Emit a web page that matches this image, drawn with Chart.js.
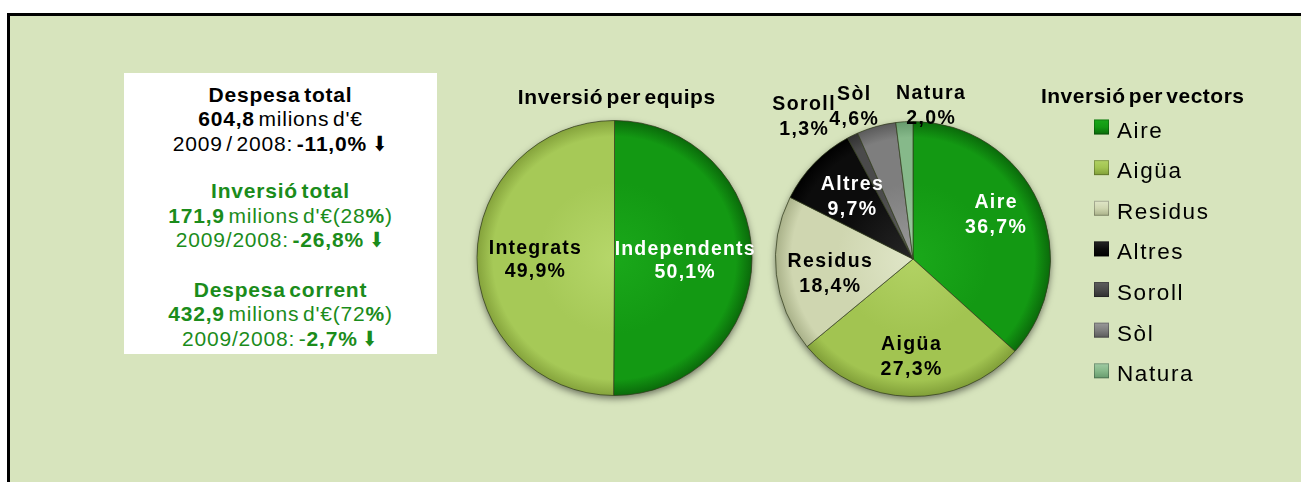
<!DOCTYPE html>
<html><head><meta charset="utf-8">
<script src="https://cdn.jsdelivr.net/npm/chart.js@4.4.1/dist/chart.umd.min.js"></script>
<style>
html,body{margin:0;padding:0;background:#fff;width:1301px;height:482px;overflow:hidden;font-family:"Liberation Sans",Arial,sans-serif;}
#frame{position:absolute;left:7px;top:13px;width:1294px;height:469px;background:#d7e4bd;border-top:3px solid #000;border-left:3px solid #000;box-sizing:border-box;}
#box{position:absolute;left:124px;top:73px;width:313px;height:281px;background:#fff;text-align:center;font-size:21px;line-height:24.5px;letter-spacing:0.8px;word-spacing:-3px;padding-top:9.5px;box-sizing:border-box;color:#000;}
#box .g2{margin-top:23px;color:#1b8c1b;}
#box .g3{margin-top:25px;color:#1b8c1b;}
#box b{font-weight:bold;}
.arr{font-family:"DejaVu Sans",sans-serif;font-weight:bold;font-size:21px;letter-spacing:0;display:inline-block;transform:scaleX(0.8);}
canvas{position:absolute;left:0;top:0;}
</style></head>
<body>
<div id="frame"></div>
<div id="box">
  <div class="g"><b>Despesa total</b><br><b>604,8</b> milions d'€<br>2009 / 2008: <b>-11,0%</b> <span class="arr">⬇</span></div>
  <div class="g2"><b>Inversió total</b><br><b>171,9</b> milions d'€(28<b>%</b>)<br>2009/2008: <b>-26,8%</b> <span class="arr">⬇</span></div>
  <div class="g3"><b>Despesa corrent</b><br><b>432,9</b> milions d'€(72<b>%</b>)<br>2009/2008: -<b>2,7%</b> <span class="arr">⬇</span></div>
</div>
<canvas id="c1" width="1301" height="482"></canvas>
<canvas id="c2" width="1301" height="482"></canvas>
<script>
// ---- data ----
const equipsLabels = ['Independents', 'Integrats'];
const equipsValues = [50.1, 49.9];
const vectorsLabels = ['Aire', 'Aigüa', 'Residus', 'Altres', 'Soroll', 'Sòl', 'Natura'];
const vectorsValues = [36.7, 27.3, 18.4, 9.7, 1.3, 4.6, 2.0];
const equipsTitle = 'Inversió per equips';
const vectorsTitle = 'Inversió per vectors';

// ---- styles ----
const equipsColors = [
  {light:'#1aa81a', base:'#139913', dark:'#0a690a'},
  {light:'#b6d76a', base:'#a6c957', dark:'#84a23b'}
];
const vectorsColors = [
  {light:'#1aa81a', base:'#139913', dark:'#0a690a'},
  {light:'#b2d264', base:'#a2c451', dark:'#809e38'},
  {light:'#e0e6c8', base:'#cfd6b0', dark:'#a8b088'},
  {light:'#262626', base:'#0c0c0c', dark:'#000000'},
  {light:'#5e5e5e', base:'#4a4a4a', dark:'#303030'},
  {light:'#9a9a9a', base:'#7e7e7e', dark:'#5a5a5a'},
  {light:'#a0cca4', base:'#86b98a', dark:'#669a6c'}
];
const FONT = '"Liberation Sans", Arial, sans-serif';

function gradFill(colors){
  return function(ctx){
    const ch = ctx.chart, a = ch.chartArea, col = colors[ctx.dataIndex];
    if(!a) return col.base;
    const cx = (a.left + a.right) / 2, cy = (a.top + a.bottom) / 2;
    const r = Math.min(a.right - a.left, a.bottom - a.top) / 2;
    const g = ch.ctx.createRadialGradient(cx, cy, 0, cx, cy, r);
    g.addColorStop(0, col.light);
    g.addColorStop(0.55, col.base);
    g.addColorStop(0.88, col.base);
    g.addColorStop(1, col.dark);
    return g;
  };
}

function fmt(v){ return v.toFixed(1).replace('.', ',') + '%'; }

const pieShadow = {
  id:'pieShadow',
  beforeDatasetsDraw(chart){
    const a = chart.getDatasetMeta(0).data[0]; if(!a) return;
    const p = a.getProps(['x','y','outerRadius'], true);
    const c = chart.ctx; c.save();
    c.shadowColor = 'rgba(0,0,0,0.5)'; c.shadowBlur = 7; c.shadowOffsetY = 3;
    c.beginPath(); c.arc(p.x, p.y, p.outerRadius, 0, Math.PI * 2);
    c.fillStyle = '#6a7a50'; c.fill(); c.restore();
  }
};

const sliceLabels = {
  id:'sliceLabels',
  afterDatasetsDraw(chart, args, opts){
    const meta = chart.getDatasetMeta(0);
    const ds = chart.data.datasets[0];
    const c = chart.ctx;
    meta.data.forEach((arc, i) => {
      const p = arc.getProps(['x','y','startAngle','endAngle','outerRadius'], true);
      const mid = (p.startAngle + p.endAngle) / 2;
      const lp = opts.place[i];
      const px = p.x + Math.cos(mid) * p.outerRadius * lp.f + lp.dx;
      const py = p.y + Math.sin(mid) * p.outerRadius * lp.f + lp.dy;
      c.save();
      c.font = 'bold ' + opts.size + 'px ' + FONT;
      c.letterSpacing = opts.ls + 'px';
      c.fillStyle = opts.colors[i];
      c.textAlign = 'center'; c.textBaseline = 'alphabetic';
      const capHalf = opts.size * 0.36;
      c.fillText(chart.data.labels[i], px + opts.ls / 2, py - opts.lh / 2 + capHalf);
      c.fillText(fmt(ds.data[i]), px + opts.ls / 2, py + opts.lh / 2 + capHalf);
      c.restore();
    });
  }
};

const titleDraw = {
  id:'titleDraw',
  afterDraw(chart, args, opts){
    const c = chart.ctx; c.save();
    c.font = 'bold ' + opts.size + 'px ' + FONT;
    c.letterSpacing = opts.ls + 'px';
    c.wordSpacing = '-3px';
    c.fillStyle = '#000'; c.textAlign = 'center'; c.textBaseline = 'alphabetic';
    c.fillText(opts.text, opts.x + opts.ls / 2, opts.y + opts.size * 0.36);
    c.restore();
  }
};

const boxLegend = {
  id:'boxLegend',
  afterDraw(chart, args, opts){
    const c = chart.ctx; c.save();
    const labels = chart.data.labels;
    labels.forEach((lab, i) => {
      const y = opts.y0 + i * opts.step;
      const col = opts.colors[i];
      const bx = opts.x, by = y - 8;
      const g = c.createLinearGradient(bx, by, bx, by + 15);
      g.addColorStop(0, col.light); g.addColorStop(0.5, col.base); g.addColorStop(1, col.dark);
      c.fillStyle = g;
      c.fillRect(bx, by, 15, 15);
      c.strokeStyle = 'rgba(0,0,0,0.25)'; c.lineWidth = 1;
      c.strokeRect(bx + 0.5, by + 0.5, 14, 14);
      c.font = opts.size + 'px ' + FONT;
      c.letterSpacing = opts.ls + 'px';
      c.fillStyle = '#000'; c.textAlign = 'left'; c.textBaseline = 'alphabetic';
      c.fillText(lab, opts.tx, y + 2 + opts.size * 0.36);
    });
    c.restore();
  }
};

Chart.defaults.font.family = FONT;

new Chart(document.getElementById('c1'), {
  type:'pie',
  data:{ labels: equipsLabels, datasets:[{ data: equipsValues,
    backgroundColor: gradFill(equipsColors),
    borderColor:'rgba(50,60,30,0.7)', borderWidth:1, hoverBorderWidth:1, hoverOffset:0 }]},
  plugins:[pieShadow, sliceLabels, titleDraw],
  options:{
    responsive:false, animation:false, events:[],
    layout:{ padding:{ left:476, right:548, top:120, bottom:86 } },
    plugins:{
      legend:{display:false}, tooltip:{enabled:false},
      sliceLabels:{ size:19.5, ls:1.2, lh:23, colors:['#fff','#000'],
        place:[ {f:0.51, dx:0, dy:1}, {f:0.58, dx:0, dy:1} ] },
      titleDraw:{ text:equipsTitle, x:616.5, y:96, size:21, ls:0.6 }
    }
  }
});

new Chart(document.getElementById('c2'), {
  type:'pie',
  data:{ labels: vectorsLabels, datasets:[{ data: vectorsValues,
    backgroundColor: gradFill(vectorsColors),
    borderColor:'rgba(50,60,30,0.7)', borderWidth:1, hoverBorderWidth:1, hoverOffset:0 }]},
  plugins:[pieShadow, sliceLabels, titleDraw, boxLegend],
  options:{
    responsive:false, animation:false, events:[],
    layout:{ padding:{ left:775, right:250, top:121, bottom:85 } },
    plugins:{
      legend:{display:false}, tooltip:{enabled:false},
      sliceLabels:{ size:19.5, ls:1.4, lh:25, colors:['#fff','#000','#000','#fff','#000','#000','#000'],
        place:[ {f:0.68, dx:-3, dy:-8}, {f:0.70, dx:0, dy:0}, {f:0.61, dx:0, dy:4}, {f:0.64, dx:2, dy:-2},
                {f:1.1, dx:-43, dy:-8}, {f:1.1, dx:-19, dy:-8}, {f:1.1, dx:27, dy:-4} ] },
      titleDraw:{ text:vectorsTitle, x:1142.5, y:95.5, size:21, ls:0.5 },
      boxLegend:{ x:1094, tx:1117, y0:127.5, step:40.63, size:22.5, ls:1.6, colors:vectorsColors }
    }
  }
});
</script>
</body></html>
